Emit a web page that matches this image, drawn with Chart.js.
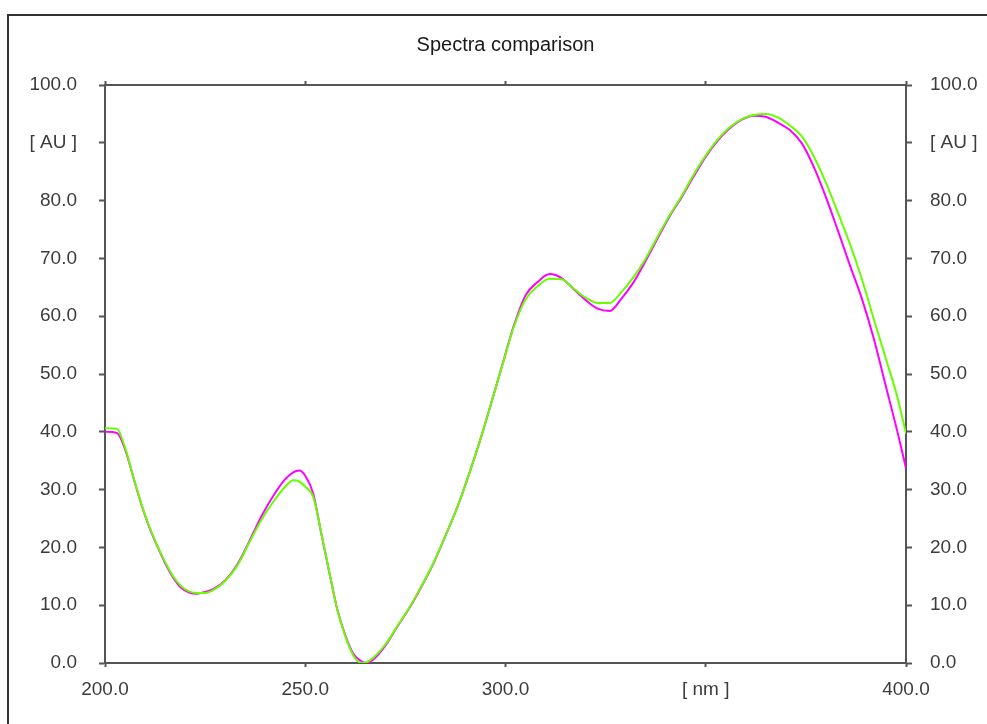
<!DOCTYPE html>
<html>
<head>
<meta charset="utf-8">
<title>Spectra comparison</title>
<script src="https://cdn.jsdelivr.net/npm/chart.js@4.4.1/dist/chart.umd.min.js"></script>
<style>
  html, body { margin: 0; padding: 0; background: #fff; }
  #wrap { position: relative; width: 987px; height: 724px; overflow: hidden; }
  #frame { position: absolute; left: 7px; top: 14px; right: -4px; bottom: -4px;
           border-left: 2px solid #333; border-top: 2px solid #333; pointer-events: none; }
  canvas { position: absolute; left: 0; top: 0; }
</style>
</head>
<body>
<div id="wrap">
  <canvas id="spectra" width="987" height="724"></canvas>
  <div id="frame"></div>
</div>
<script>
// Spectra comparison — two absorbance spectra on a shared wavelength grid
const FONT = 'Liberation Sans, Arial, sans-serif';
const AXIS = '#555555';
const LABEL = '#3c3c3c';

// wavelength grid [nm]
const wavelengths = [
  200, 203, 205, 207, 209, 211, 213, 215, 217, 219, 221, 223, 225, 227, 230, 233, 236, 239, 242, 245,
  247, 248.5, 250, 252, 254, 256, 258, 260, 262, 264, 265.5, 267, 270, 273, 276, 279, 282, 285, 288, 291,
  294, 297, 300, 302, 305, 308, 311, 314, 317, 320, 323, 326, 329, 332, 335, 338, 341, 344, 347, 350,
  353, 356, 359, 362, 365, 368, 371, 374, 377, 380, 383, 386, 389, 392, 395, 398, 400
];

// absorbance [AU], magenta trace
const magentaAu = [
  40.0, 39.8, 37.0, 32.3, 27.6, 23.6, 20.3, 17.3, 14.8, 13.0, 12.2, 12.0, 12.3, 12.8, 14.3, 17.0, 21.0, 25.3, 28.9, 31.8,
  33.0, 33.3, 32.4, 29.3, 22.4, 15.7, 9.3, 4.8, 1.6, 0.3, 0.0, 0.6, 3.0, 6.3, 9.5, 13.2, 17.2, 22.0, 27.0, 32.9,
  39.3, 46.3, 53.5, 58.2, 63.6, 65.9, 67.3, 66.6, 64.7, 62.8, 61.3, 60.9, 63.1, 65.9, 69.6, 73.5, 77.3, 80.6, 84.2, 87.6,
  90.4, 92.5, 94.0, 94.7, 94.5, 93.5, 92.2, 89.9, 85.8, 80.6, 74.8, 68.8, 63.0, 56.0, 47.8, 39.6, 33.7
];

// absorbance [AU], green trace
const greenAu = [
  40.6, 40.5, 37.3, 32.4, 27.7, 23.7, 20.4, 17.5, 15.0, 13.3, 12.4, 12.1, 12.1, 12.6, 14.2, 16.8, 20.8, 24.7, 27.9, 30.5,
  31.6, 31.4, 30.5, 28.7, 22.5, 15.8, 9.2, 4.6, 1.3, 0.0, 0.2, 0.9, 3.2, 6.4, 9.6, 13.3, 17.3, 22.0, 27.0, 32.9,
  39.3, 46.3, 53.4, 58.0, 62.9, 65.2, 66.5, 66.4, 64.8, 63.2, 62.3, 62.3, 64.2, 66.8, 70.0, 73.8, 77.5, 80.8, 84.5, 87.8,
  90.6, 92.7, 94.1, 94.8, 95.0, 94.4, 93.0, 91.1, 87.6, 83.1, 77.9, 72.5, 66.4, 59.4, 52.6, 45.6, 39.7
];

const yTickLabel = v => v === 90 ? '[ AU ]' : v.toFixed(1);
const xTickLabel = v => v === 350 ? '[ nm ]' : v.toFixed(1);

const toPoints = values => wavelengths.map((x, i) => ({ x, y: values[i] }));

const trace = (values, color) => ({
  data: toPoints(values),
  borderColor: color,
  borderWidth: 2,
  pointRadius: 0,
  fill: false,
  cubicInterpolationMode: 'monotone',
  xAxisID: 'x',
  yAxisID: 'y',
});

const tickFont = { family: FONT, size: 19 };
const edge = { display: true, color: AXIS, width: 2 };

new Chart(document.getElementById('spectra'), {
  type: 'line',
  data: {
    // green first so it is painted over the magenta trace
    datasets: [trace(greenAu, '#66ff00'), trace(magentaAu, '#ff00ff')],
  },
  options: {
    responsive: false,
    animation: false,
    layout: { padding: 0 },
    plugins: {
      legend: { display: false },
      tooltip: { enabled: false },
      title: {
        display: true, text: 'Spectra comparison', fullSize: false,
        color: '#1a1a1a', font: { family: FONT, size: 20, weight: 'normal' },
        padding: { top: 33, bottom: 0 },
      },
    },
    scales: {
      x: {
        type: 'linear', position: 'bottom', min: 200, max: 400,
        border: edge,
        grid: { drawOnChartArea: false, drawTicks: true, tickLength: 4, color: AXIS, tickWidth: 2 },
        ticks: { stepSize: 50, color: LABEL, font: tickFont, padding: 11, maxRotation: 0, autoSkip: false, callback: xTickLabel },
        afterFit: s => { s.height = 61; },
      },
      x2: {
        type: 'linear', position: 'top', min: 200, max: 400,
        border: edge,
        grid: { drawOnChartArea: false, drawTicks: true, tickLength: 4, color: AXIS, tickWidth: 2 },
        ticks: { stepSize: 50, display: false },
        afterFit: s => { s.height = 28; },
      },
      y: {
        position: 'left', min: 0, max: 100,
        border: edge,
        grid: { drawOnChartArea: false, drawTicks: true, tickLength: 6, color: AXIS, tickWidth: 2 },
        ticks: { stepSize: 10, color: LABEL, font: tickFont, padding: 22, callback: yTickLabel },
        afterFit: s => { s.width = 105; },
      },
      y2: {
        position: 'right', min: 0, max: 100,
        border: edge,
        grid: { drawOnChartArea: false, drawTicks: true, tickLength: 6, color: AXIS, tickWidth: 2 },
        ticks: { stepSize: 10, color: LABEL, font: tickFont, padding: 18, callback: yTickLabel },
        afterFit: s => { s.width = 81; },
      },
    },
  },
});
</script>
</body>
</html>
